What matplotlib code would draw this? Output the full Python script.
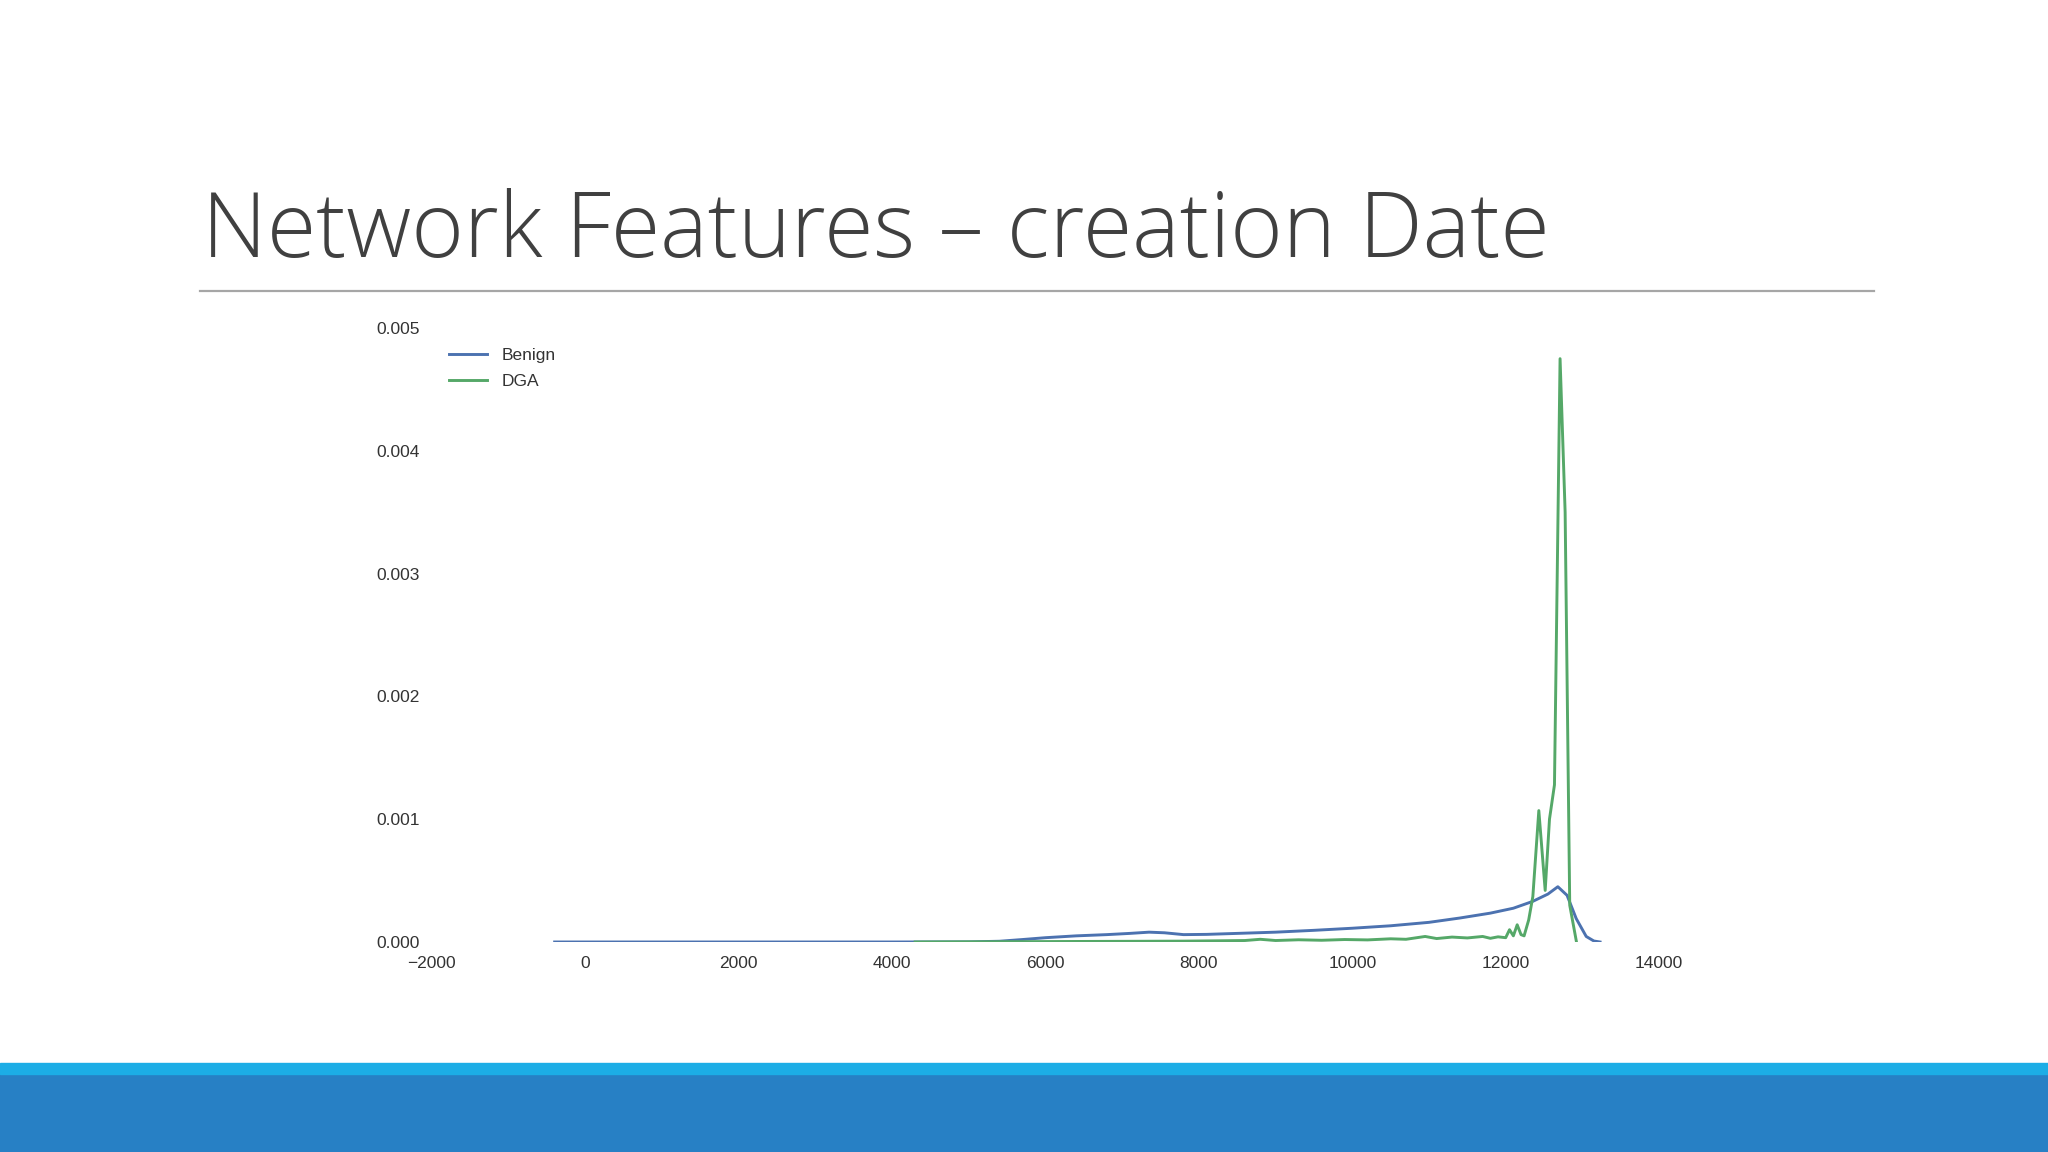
import matplotlib
matplotlib.use('agg')
import matplotlib.pyplot as plt
from matplotlib.patches import Rectangle
from matplotlib.lines import Line2D

# kde curves (density values)
benign_x = [-400, 0, 1000, 2000, 3000, 4000, 5000, 5400, 5700, 6000, 6400, 6800,
            7100, 7350, 7550, 7800, 8100, 8500, 9000, 9500, 10000, 10500, 11000,
            11400, 11800, 12100, 12350, 12550, 12680, 12800, 12920, 13050, 13150, 13230]
benign_y = [0, 0, 0, 0, 0, 0, 0.01e-4, 0.06e-4, 0.2e-4, 0.35e-4, 0.5e-4, 0.6e-4,
            0.7e-4, 0.8e-4, 0.75e-4, 0.6e-4, 0.62e-4, 0.7e-4, 0.8e-4, 0.95e-4, 1.12e-4,
            1.32e-4, 1.6e-4, 1.95e-4, 2.35e-4, 2.75e-4, 3.3e-4, 3.9e-4, 4.5e-4, 3.8e-4,
            1.9e-4, 0.45e-4, 0.08e-4, 0]

dga_x = [4300, 4800, 5300, 5800, 6300, 6800, 7300, 7800, 8300, 8600, 8800, 9000,
         9300, 9600, 9900, 10200, 10500, 10700, 10950, 11100, 11300, 11500, 11700,
         11800, 11900, 12000, 12050, 12100, 12150, 12200, 12240, 12300, 12354, 12432,
         12515, 12571, 12636, 12709, 12775, 12835, 12920]
dga_y = [0, 0.01e-4, 0.02e-4, 0.03e-4, 0.04e-4, 0.05e-4, 0.06e-4, 0.07e-4, 0.1e-4,
         0.12e-4, 0.22e-4, 0.12e-4, 0.18e-4, 0.14e-4, 0.2e-4, 0.17e-4, 0.26e-4, 0.22e-4,
         0.45e-4, 0.28e-4, 0.4e-4, 0.33e-4, 0.45e-4, 0.3e-4, 0.42e-4, 0.35e-4, 1.0e-4,
         0.5e-4, 1.4e-4, 0.6e-4, 0.5e-4, 1.8e-4, 3.7e-4, 10.7e-4, 4.2e-4, 10.0e-4,
         12.8e-4, 47.5e-4, 35e-4, 3.0e-4, 0.1e-4]

x_ticks = [-2000, 0, 2000, 4000, 6000, 8000, 10000, 12000, 14000]
y_ticks = [0.000, 0.001, 0.002, 0.003, 0.004, 0.005]

title = 'Network Features \u2013 creation Date'

fig = plt.figure(figsize=(20.48, 11.52), dpi=100)
fig.patch.set_facecolor('white')

# slide decoration
fig.patches.append(Rectangle((0, 0), 1, 0.0677, transform=fig.transFigure,
                             color='#2780c5', zorder=0))
fig.patches.append(Rectangle((0, 0.0677), 1, 0.0096, transform=fig.transFigure,
                             color='#1cade6', zorder=0))
fig.lines.append(Line2D([0.0977, 0.915], [0.7474, 0.7474], transform=fig.transFigure,
                        color='#a6a6a6', linewidth=1.6))
fig.text(0.0986, 0.7765, title, fontsize=64.7, color='#404040', va='baseline',
         ha='left', family=['Open Sans', 'DejaVu Sans'], fontweight='light')

ax = fig.add_axes([0.2109, 0.1823, 0.5992, 0.533])
ax.plot(benign_x, benign_y, color='#4c72b0', linewidth=2.1, label='Benign')
ax.plot(dga_x, dga_y, color='#55a868', linewidth=2.1, label='DGA')
ax.set_xlim(-2000, 14000)
ax.set_ylim(0, 0.005)
ax.set_xticks(x_ticks)
ax.set_yticks(y_ticks)
ax.set_xticklabels([str(t).replace('-', '\u2212') for t in x_ticks])
ax.set_yticklabels(['%.3f' % t for t in y_ticks])
for s in ax.spines.values():
    s.set_visible(False)
ax.tick_params(length=0, labelsize=12.5, labelcolor='#333333')
ax.tick_params(axis='y', pad=9)
ax.tick_params(axis='x', pad=10)
for lab in ax.get_xticklabels() + ax.get_yticklabels():
    lab.set_family('Liberation Sans')

leg = ax.legend(loc='upper left', bbox_to_anchor=(0.0139, 0.967), frameon=False,
                borderaxespad=0, borderpad=0, handlelength=2.2, handletextpad=0.85,
                labelspacing=0.62, prop={'family': 'Liberation Sans', 'size': 12.5})
for t in leg.get_texts():
    t.set_color('#333333')

fig.savefig('out.png', dpi=100)
